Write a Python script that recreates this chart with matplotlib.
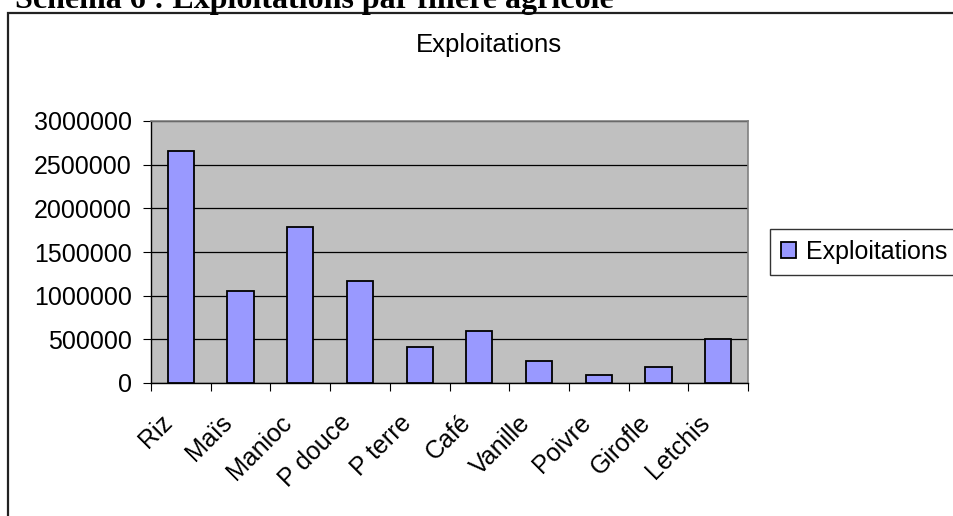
import matplotlib
matplotlib.use("Agg")
import matplotlib.pyplot as plt
from matplotlib.patches import Rectangle
import numpy as np

categories = ["Riz", "Maïs", "Manioc", "P douce", "P terre", "Café", "Vanille", "Poivre", "Girofle", "Letchis"]
values = [2660000, 1057000, 1790000, 1168000, 416000, 599000, 255000, 92000, 187000, 507000]
yticks = [0, 500000, 1000000, 1500000, 2000000, 2500000, 3000000]
series_name = "Exploitations"

plt.rcParams['font.family'] = ['Liberation Sans', 'DejaVu Sans']

W, H = 954, 516
fig = plt.figure(figsize=(W / 100, H / 100), dpi=100)
fig.patch.set_facecolor("white")

def fx(px):
    return px / W

def fy(py):
    return 1 - py / H

FS = 18

# chart border
fig.patches.append(Rectangle((fx(8), fy(600)), fx(1000) - fx(8), fy(13) - fy(600),
                             transform=fig.transFigure, fill=False, edgecolor="#222222",
                             linewidth=1.6, clip_on=False))

# document heading (cut at top)
fig.text(fx(15), fy(8), "Schéma 6 : Exploitations par filière agricole",
         family=["Liberation Serif", "DejaVu Serif"], weight="bold", fontsize=23,
         ha="left", va="baseline")

ax = fig.add_axes([fx(151), fy(383), fx(748) - fx(151), fy(121) - fy(383)])
ax.set_facecolor("#C0C0C0")
x = np.arange(len(categories))
ax.bar(x, values, width=0.44, color="#9999FF", edgecolor="black", linewidth=1.3,
       zorder=3, label=series_name)
ax.set_xlim(-0.5, len(categories) - 0.5)
ax.set_ylim(0, 3000000)
ax.set_yticks(yticks)
ax.set_yticklabels([str(v) for v in yticks], fontsize=FS)
ax.yaxis.grid(True, color="black", linewidth=0.9, zorder=1)
ax.set_axisbelow(True)

ax.set_xticks(np.arange(len(categories) + 1) - 0.5)
ax.set_xticklabels([])
ax.tick_params(axis="x", which="major", length=6, color="black", direction="out")
ax.tick_params(axis="y", length=6, color="black", direction="out", pad=8)

for i, name in enumerate(categories):
    ax.annotate(name, xy=(i, 0), xycoords=("data", "axes fraction"),
                xytext=(-12, -36), textcoords="offset pixels",
                ha="right", va="center", rotation=45, rotation_mode="anchor",
                fontsize=FS, annotation_clip=False)

for s in ["top", "right"]:
    ax.spines[s].set_color("#808080")
    ax.spines[s].set_linewidth(1.2)
for s in ["left", "bottom"]:
    ax.spines[s].set_color("black")
    ax.spines[s].set_linewidth(1.0)

fig.text(fx(489), fy(45), "Exploitations", ha="center", va="center", fontsize=18.5)

leg = ax.legend(loc="center left", bbox_to_anchor=(fx(770), fy(252)),
                bbox_transform=fig.transFigure, frameon=True, fancybox=False,
                edgecolor="black", fontsize=FS, handlelength=0.6, handleheight=0.6,
                handletextpad=0.4, borderpad=0.45, borderaxespad=0)
leg.get_frame().set_linewidth(1.0)

fig.savefig("out.png", dpi=100)
